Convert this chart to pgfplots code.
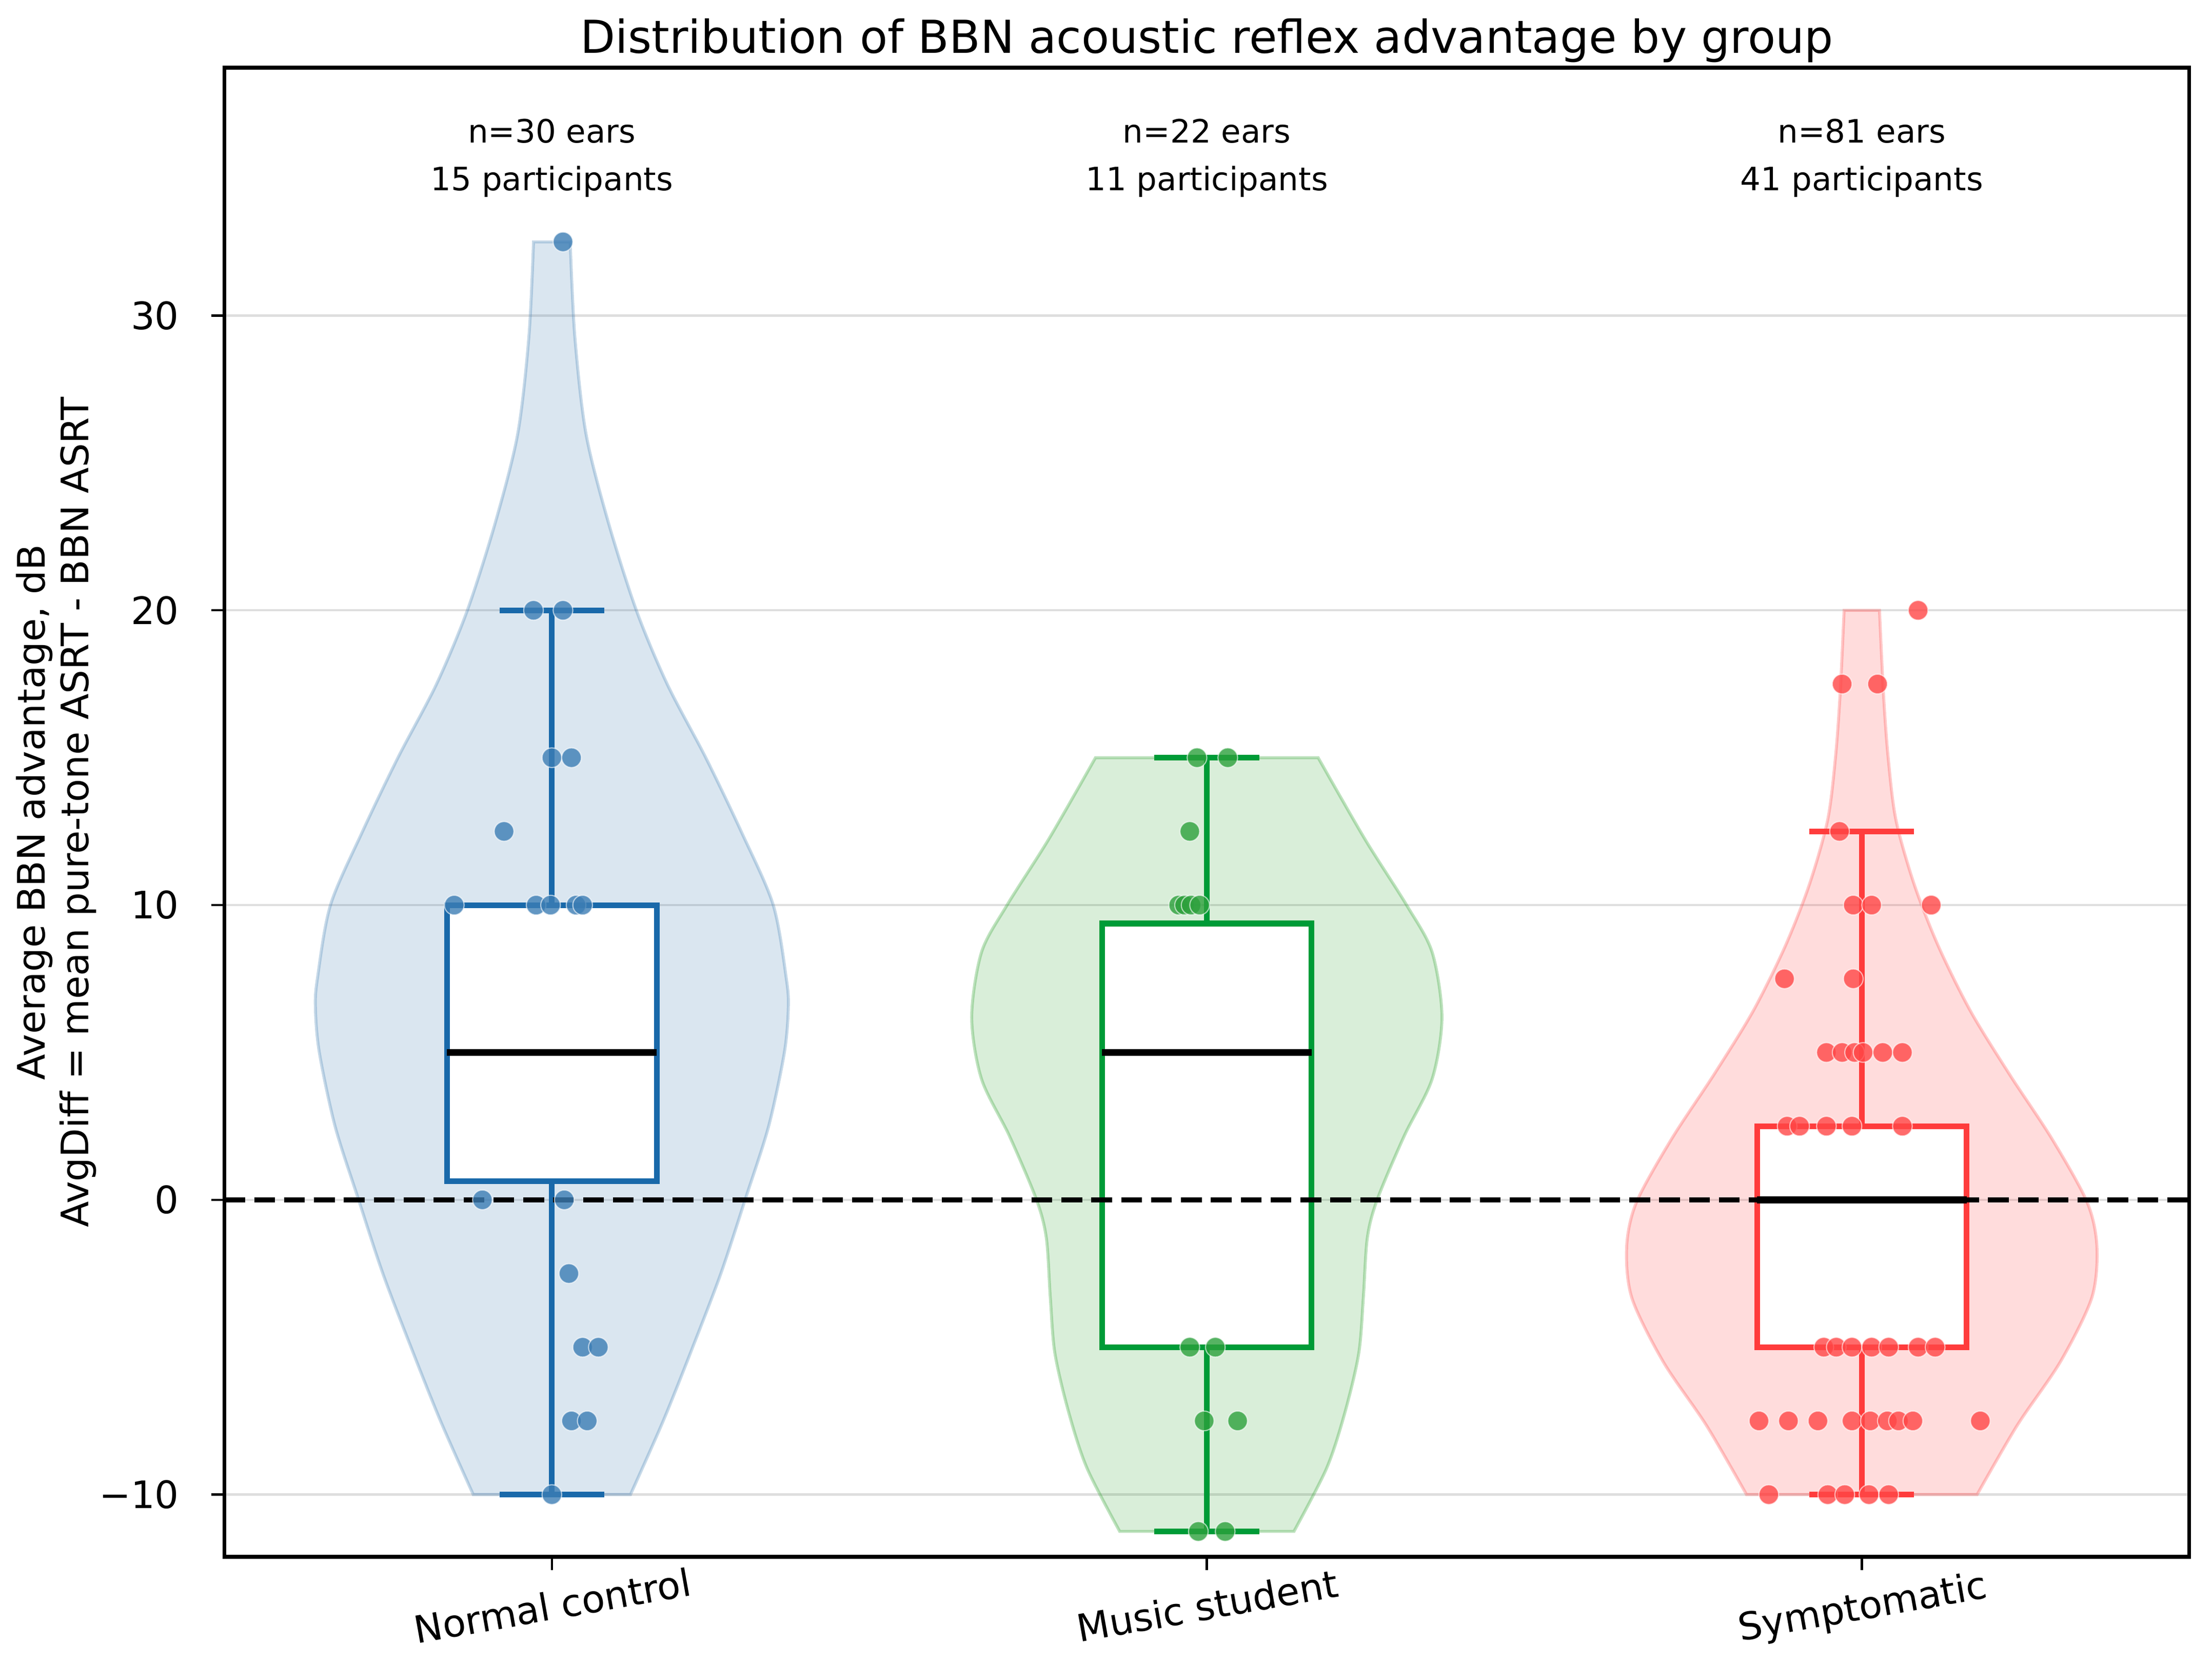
\documentclass[border=0pt]{standalone}
\usepackage{pgfplots}
\pgfplotsset{compat=1.18}
\usepgfplotslibrary{fillbetween}
\usepackage{pgfplotstable}
\usepackage{fontspec}
\setmainfont{DejaVu Sans}

\definecolor{vblue}{RGB}{70,130,180}
\definecolor{pblue}{RGB}{60,125,180}
\definecolor{bblue}{RGB}{25,105,170}
\definecolor{vgreen}{RGB}{44,160,44}
\definecolor{pgreen}{RGB}{44,160,60}
\definecolor{bgreen}{RGB}{0,155,55}
\definecolor{vred}{RGB}{255,80,80}
\definecolor{pred}{RGB}{255,70,70}
\definecolor{bred}{RGB}{255,60,60}

% violin outlines: left side bottom->top, right side top->bottom
\pgfplotstableread{
x y
-0.120 -10
-0.170 -7.5
-0.215 -5
-0.258 -2.5
-0.295 0
-0.331 2.5
-0.355 5
-0.361 6.5
-0.358 7.5
-0.338 10
-0.289 12.5
-0.235 15
-0.176 17.5
-0.129 20
-0.086 23
-0.052 26
-0.035 29.3
-0.028 32.5
}\violinAL
\pgfplotstableread{
x y
0.028 32.5
0.035 29.3
0.052 26
0.086 23
0.129 20
0.176 17.5
0.235 15
0.289 12.5
0.338 10
0.358 7.5
0.361 6.5
0.355 5
0.331 2.5
0.295 0
0.258 -2.5
0.215 -5
0.170 -7.5
0.120 -10
}\violinAR
\pgfplotstableread{
x y
0.867 -11.25
0.817 -9.1
0.789 -7.2
0.768 -5.2
0.761 -3.3
0.755 -1.3
0.740 0
0.699 2.15
0.656 4.1
0.641 6.2
0.656 8.4
0.695 10
0.759 12.25
0.830 15
}\violinBL
\pgfplotstableread{
x y
1.170 15
1.241 12.25
1.305 10
1.344 8.4
1.359 6.2
1.344 4.1
1.301 2.15
1.260 0
1.245 -1.3
1.239 -3.3
1.232 -5.2
1.211 -7.2
1.183 -9.1
1.133 -11.25
}\violinBR
\pgfplotstableread{
x y
1.824 -10
1.763 -7.66
1.697 -5.5
1.649 -3.33
1.641 -1.6
1.656 -0.08
1.710 2.08
1.774 4.24
1.834 6.4
1.883 8.6
1.920 10.7
1.948 12.9
1.960 15.06
1.967 17.2
1.973 20
}\violinCL
\pgfplotstableread{
x y
2.027 20
2.033 17.2
2.040 15.06
2.052 12.9
2.080 10.7
2.117 8.6
2.166 6.4
2.226 4.24
2.290 2.08
2.344 -0.08
2.359 -1.6
2.351 -3.33
2.303 -5.5
2.237 -7.66
2.176 -10
}\violinCR

% jittered points
\pgfplotstableread{
x y
0.017 32.5
-0.028 20
0.017 20
0.000 15
0.030 15
-0.073 12.5
-0.149 10
-0.024 10
-0.002 10
0.037 10
0.047 10
-0.106 0
0.019 0
0.026 -2.5
0.047 -5
0.071 -5
0.030 -7.5
0.054 -7.5
0.000 -10
}\ptsA
\pgfplotstableread{
x y
0.985 15
1.032 15
0.974 12.5
0.957 10
0.966 10
0.976 10
0.989 10
0.974 -5
1.013 -5
0.996 -7.5
1.047 -7.5
0.987 -11.25
1.028 -11.25
}\ptsB
\pgfplotstableread{
x y
2.086 20
1.970 17.5
2.024 17.5
1.966 12.5
1.987 10
2.015 10
2.106 10
1.882 7.5
1.987 7.5
1.946 5
1.970 5
1.989 5
2.002 5
2.032 5
2.062 5
1.886 2.5
1.905 2.5
1.946 2.5
1.985 2.5
2.062 2.5
1.942 -5
1.961 -5
1.985 -5
2.015 -5
2.041 -5
2.086 -5
2.112 -5
1.843 -7.5
1.888 -7.5
1.933 -7.5
1.985 -7.5
2.013 -7.5
2.039 -7.5
2.056 -7.5
2.078 -7.5
2.181 -7.5
1.858 -10
1.948 -10
1.974 -10
2.011 -10
2.041 -10
}\ptsC

\begin{document}
\begin{tikzpicture}
\begin{axis}[
  name=ax, at={(0,0)}, anchor=south west,
  scale only axis, width=519.3pt, height=393.7pt,
  xmin=-0.5, xmax=2.5, ymin=-12.11, ymax=38.41,
  xtick={0,1,2}, xticklabels={Normal control,Music student,Symptomatic},
  ytick={-10,0,10,20,30}, yticklabels={−10,0,10,20,30},
  xtick pos=bottom, ytick pos=left,
  tick align=outside, major tick length=3.5pt,
  every tick/.style={black, line width=0.6pt},
  axis line style={black, line width=1pt},
  ticklabel style={font=\fontsize{10}{12}\selectfont},
  xticklabel style={rotate=10, anchor=center, inner sep=0pt, text height=7.6pt, text depth=2.4pt, yshift=-10.4pt, xshift=-1.5pt},
  yticklabel style={anchor=east, inner sep=0pt, xshift=-8.3pt},
  ymajorgrids, major grid style={black!13, line width=0.6pt},
]
% violins
\addplot[draw=none, smooth, name path=AL] table[x=x, y=y] {\violinAL};
\addplot[draw=none, smooth, name path=AR] table[x=x, y=y] {\violinAR};
\addplot[fill=vblue, fill opacity=0.2, draw=vblue, draw opacity=0.3, line width=0.8pt] fill between[of=AL and AR, reverse=false];
\addplot[draw=none, smooth, name path=BL] table[x=x, y=y] {\violinBL};
\addplot[draw=none, smooth, name path=BR] table[x=x, y=y] {\violinBR};
\addplot[fill=vgreen, fill opacity=0.18, draw=vgreen, draw opacity=0.3, line width=0.8pt] fill between[of=BL and BR, reverse=false];
\addplot[draw=none, smooth, name path=CL] table[x=x, y=y] {\violinCL};
\addplot[draw=none, smooth, name path=CR] table[x=x, y=y] {\violinCR};
\addplot[fill=vred, fill opacity=0.2, draw=vred, draw opacity=0.3, line width=0.8pt] fill between[of=CL and CR, reverse=false];
% points
\addplot[only marks, mark=*, mark size=2.6pt, mark options={fill=pblue, fill opacity=0.8, draw=white, draw opacity=0.6, line width=0.3pt}] table[x=x,y=y] {\ptsA};
\addplot[only marks, mark=*, mark size=2.6pt, mark options={fill=pgreen, fill opacity=0.8, draw=white, draw opacity=0.6, line width=0.3pt}] table[x=x,y=y] {\ptsB};
\addplot[only marks, mark=*, mark size=2.6pt, mark options={fill=pred, fill opacity=0.8, draw=white, draw opacity=0.6, line width=0.3pt}] table[x=x,y=y] {\ptsC};
% boxes: Normal control
\addplot[bblue, line width=1.5pt] coordinates {(0,10) (0,20)};
\addplot[bblue, line width=1.5pt] coordinates {(0,0.625) (0,-10)};
\addplot[bblue, line width=1.5pt] coordinates {(-0.08,20) (0.08,20)};
\addplot[bblue, line width=1.5pt] coordinates {(-0.08,-10) (0.08,-10)};
\addplot[bblue, line width=1.5pt, fill=white] coordinates {(-0.16,0.625) (0.16,0.625) (0.16,10) (-0.16,10)} -- cycle;
% Music student
\addplot[bgreen, line width=1.5pt] coordinates {(1,9.375) (1,15)};
\addplot[bgreen, line width=1.5pt] coordinates {(1,-5) (1,-11.25)};
\addplot[bgreen, line width=1.5pt] coordinates {(0.92,15) (1.08,15)};
\addplot[bgreen, line width=1.5pt] coordinates {(0.92,-11.25) (1.08,-11.25)};
\addplot[bgreen, line width=1.5pt, fill=white] coordinates {(0.84,-5) (1.16,-5) (1.16,9.375) (0.84,9.375)} -- cycle;
% Symptomatic
\addplot[bred, line width=1.5pt] coordinates {(2,2.5) (2,12.5)};
\addplot[bred, line width=1.5pt] coordinates {(2,-5) (2,-10)};
\addplot[bred, line width=1.5pt] coordinates {(1.92,12.5) (2.08,12.5)};
\addplot[bred, line width=1.5pt] coordinates {(1.92,-10) (2.08,-10)};
\addplot[bred, line width=1.5pt, fill=white] coordinates {(1.84,-5) (2.16,-5) (2.16,2.5) (1.84,2.5)} -- cycle;
% zero line
\addplot[black, line width=1.3pt, dash pattern=on 5.5pt off 2.4pt] coordinates {(-0.5,0) (2.5,0)};
% medians
\addplot[black, line width=1.8pt] coordinates {(-0.16,5) (0.16,5)};
\addplot[black, line width=1.8pt] coordinates {(0.84,5) (1.16,5)};
\addplot[black, line width=1.8pt] coordinates {(1.84,0) (2.16,0)};
% annotations
\node[anchor=base, font=\fontsize{8.5}{10}\selectfont] at (axis cs:0,35.87) {n=30 ears};
\node[anchor=base, font=\fontsize{8.5}{10}\selectfont] at (axis cs:0,34.24) {15 participants};
\node[anchor=base, font=\fontsize{8.5}{10}\selectfont] at (axis cs:1,35.87) {n=22 ears};
\node[anchor=base, font=\fontsize{8.5}{10}\selectfont] at (axis cs:1,34.24) {11 participants};
\node[anchor=base, font=\fontsize{8.5}{10}\selectfont] at (axis cs:2,35.87) {n=81 ears};
\node[anchor=base, font=\fontsize{8.5}{10}\selectfont] at (axis cs:2,34.24) {41 participants};
\end{axis}
\node[anchor=base, font=\fontsize{12}{14}\selectfont] at ([yshift=3.9pt]ax.north) {Distribution of BBN acoustic reflex advantage by group};
\node[rotate=90, anchor=base, inner sep=0pt, font=\fontsize{10}{12}\selectfont] at ([xshift=-47.5pt]ax.west) {Average BBN advantage, dB};
\node[rotate=90, anchor=base, inner sep=0pt, font=\fontsize{10}{12}\selectfont] at ([xshift=-35.9pt]ax.west) {AvgDiff = mean pure-tone ASRT - BBN ASRT};
\pgfresetboundingbox
\path[use as bounding box] (-59.3pt,-28.6pt) rectangle (525.3pt,411.6pt);
\end{tikzpicture}
\end{document}
